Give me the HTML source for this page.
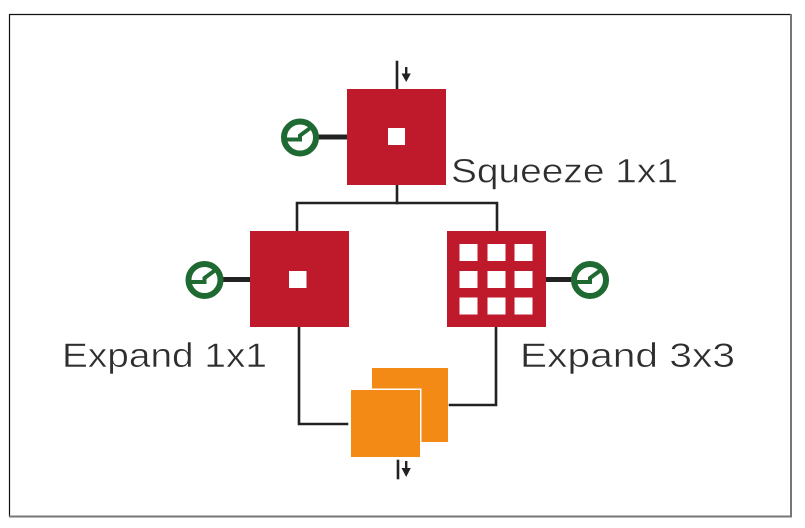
<!DOCTYPE html>
<html>
<head>
<meta charset="utf-8">
<style>
  html, body { margin: 0; padding: 0; background: #fff; }
  body { width: 805px; height: 528px; overflow: hidden; }
  svg { display: block; }
  text { font-family: "Liberation Sans", "DejaVu Sans", sans-serif; fill: #2e2e2e; font-size: 34px; stroke: #fff; stroke-width: 0.5; }
</style>
</head>
<body>
<svg width="805" height="528" viewBox="0 0 805 528" xmlns="http://www.w3.org/2000/svg">
  <!-- frame -->
  <rect x="0" y="0" width="805" height="528" fill="#fff"/>
  <line x1="9.5" y1="14" x2="9.5" y2="517" stroke="#111" stroke-width="1.2"/>
  <line x1="9" y1="14.5" x2="791" y2="14.5" stroke="#111" stroke-width="1.2"/>
  <line x1="791" y1="14" x2="791" y2="517.5" stroke="#777" stroke-width="2"/>
  <line x1="9" y1="516.5" x2="792" y2="516.5" stroke="#777" stroke-width="2"/>

  <!-- connectors -->
  <g stroke="#222" stroke-width="2.6" fill="none" stroke-linecap="square">
    <line x1="397" y1="62" x2="397" y2="89"/>
    <line x1="397" y1="185" x2="397" y2="203"/>
    <polyline points="297,231 297,203 497,203 497,231"/>
    <polyline points="299,327 299,424 347,424"/>
    <polyline points="496,327 496,405 450,405"/>
    <line x1="398" y1="461" x2="398" y2="478"/>
  </g>

  <!-- small arrows -->
  <g fill="#222">
    <rect x="405" y="67" width="2.4" height="8"/>
    <polygon points="401.5,73.5 410.8,73.5 406.2,82"/>
    <rect x="405" y="461" width="2.4" height="8"/>
    <polygon points="401.5,468 410.8,468 406.2,477"/>
  </g>

  <!-- thick lines to icons -->
  <g stroke="#222" stroke-width="5">
    <line x1="316" y1="137" x2="348" y2="137"/>
    <line x1="222" y1="279.5" x2="251" y2="279.5"/>
    <line x1="545" y1="279.5" x2="574" y2="279.5"/>
  </g>

  <!-- squeeze box -->
  <rect x="347" y="89" width="99" height="96" fill="#be1a2c"/>
  <rect x="388" y="128" width="17" height="17" fill="#fff"/>

  <!-- expand 1x1 box -->
  <rect x="250" y="231" width="99" height="96" fill="#be1a2c"/>
  <rect x="289" y="271" width="17.5" height="17" fill="#fff"/>

  <!-- expand 3x3 box -->
  <rect x="447" y="231" width="99" height="96" fill="#be1a2c"/>
  <g fill="#fff">
    <rect x="459.5" y="244" width="18" height="17"/>
    <rect x="487.5" y="244" width="18" height="17"/>
    <rect x="514.5" y="244" width="18" height="17"/>
    <rect x="459.5" y="271" width="18" height="17"/>
    <rect x="487.5" y="271" width="18" height="17"/>
    <rect x="514.5" y="271" width="18" height="17"/>
    <rect x="459.5" y="297.5" width="18" height="17"/>
    <rect x="487.5" y="297.5" width="18" height="17"/>
    <rect x="514.5" y="297.5" width="18" height="17"/>
  </g>

  <!-- gauge icons -->
  <g fill="none" stroke="#1f6a32" stroke-width="6">
    <circle cx="300" cy="137.5" r="16"/>
    <circle cx="204.5" cy="280" r="16"/>
    <circle cx="590" cy="280" r="16"/>
  </g>
  <g fill="none" stroke="#1f6a32" stroke-width="4" stroke-linejoin="miter">
    <polyline points="287,139.5 300,139.5 300,135.5 313,126"/>
    <polyline points="191.5,282 204.5,282 204.5,278 217.5,268.5"/>
    <polyline points="577,282 590,282 590,278 603,268.5"/>
  </g>

  <!-- orange stack -->
  <rect x="372" y="368" width="76" height="74" fill="#f38a15"/>
  <rect x="349.5" y="388.5" width="72" height="70" fill="#fff"/>
  <rect x="351" y="390" width="69" height="67" fill="#f38a15"/>

  <!-- labels -->
  <text x="451" y="182.5" textLength="227" lengthAdjust="spacingAndGlyphs">Squeeze 1x1</text>
  <text x="62" y="367" textLength="205" lengthAdjust="spacingAndGlyphs">Expand 1x1</text>
  <text x="520" y="367" textLength="215" lengthAdjust="spacingAndGlyphs">Expand 3x3</text>
</svg>
</body>
</html>
